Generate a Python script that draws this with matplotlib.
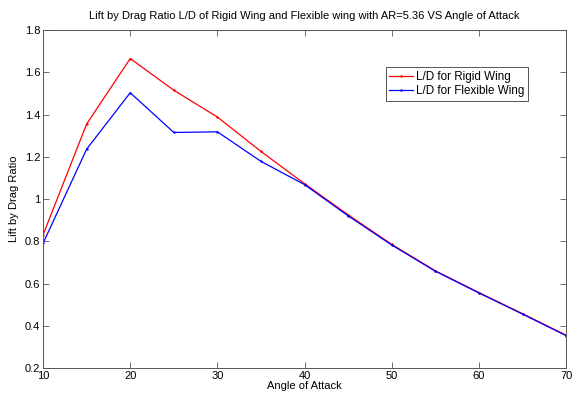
import matplotlib.pyplot as plt

angle = [10, 15, 20, 25, 30, 35, 40, 45, 50, 55, 60, 65, 70]
ld_rigid = [0.83, 1.355, 1.665, 1.515, 1.388, 1.225, 1.072, 0.925, 0.785, 0.66, 0.557, 0.457, 0.355]
ld_flexible = [0.79, 1.236, 1.503, 1.315, 1.318, 1.178, 1.068, 0.92, 0.782, 0.658, 0.555, 0.455, 0.353]

plt.rcParams["font.family"] = ["Liberation Sans", "DejaVu Sans"]
plt.rcParams["font.size"] = 8

fig = plt.figure(figsize=(5.76, 3.96), dpi=100)
ax = fig.add_axes([0.0747, 0.0707, 0.9083, 0.8535])

ax.plot(angle, ld_rigid, color="red", marker=".", markersize=1.5, linewidth=0.9, label="L/D for Rigid Wing")
ax.plot(angle, ld_flexible, color="blue", marker=".", markersize=1.5, linewidth=0.9, label="L/D for Flexible Wing")

ax.set_xlim(10, 70)
ax.set_ylim(0.2, 1.8)
ax.set_xticks(range(10, 71, 10))
ax.set_yticks([0.2, 0.4, 0.6, 0.8, 1.0, 1.2, 1.4, 1.6, 1.8])
ax.set_yticklabels(["0.2", "0.4", "0.6", "0.8", "1", "1.2", "1.4", "1.6", "1.8"])
ax.tick_params(direction="in", top=True, right=True, length=4, width=0.6, color="#555555", pad=2)
for s in ax.spines.values():
    s.set_color("#555555")
    s.set_linewidth(0.7)

ax.set_title("Lift by Drag Ratio L/D of Rigid Wing and Flexible wing with AR=5.36 VS Angle of Attack", fontsize=8, pad=8)
ax.set_xlabel("Angle of Attack", labelpad=0)
ax.set_ylabel("Lift by Drag Ratio", labelpad=4)

leg = ax.legend(loc="upper left", bbox_to_anchor=(0.655, 0.89), fancybox=False, framealpha=1,
                edgecolor="#555555", borderpad=0.3, handlelength=2.0, handletextpad=0.3,
                labelspacing=0.2, borderaxespad=0, fontsize=8.4)
leg.get_frame().set_linewidth(0.7)

fig.savefig("out.png", dpi=100)
